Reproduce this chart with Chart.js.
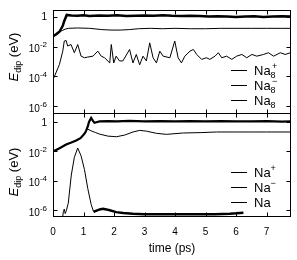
<!DOCTYPE html>
<html>
<head>
<meta charset="utf-8">
<script src="https://cdn.jsdelivr.net/npm/chart.js@4"></script>
<style>
  html, body { margin: 0; padding: 0; background: #fff; }
  #wrap { position: relative; width: 297px; height: 260px; }
  canvas { position: absolute; left: 0; }
</style>
</head>
<body>
<div id="wrap">
  <canvas id="top" width="297" height="114" style="top:0"></canvas>
  <canvas id="bottom" width="297" height="147" style="top:113px"></canvas>
</div>
<script>
// ---- top panel: Na8 cluster (time in ps, E_dip in eV)
const tNa8p = [0, 0.10, 0.21, 0.32, 0.37, 0.45, 0.6, 0.8, 1.0, 1.2, 1.5, 1.8, 2.1, 2.4, 2.7, 3.0, 3.3, 3.6, 3.9, 4.2, 4.5, 4.8, 5.1, 5.4, 5.7, 6.0, 6.3, 6.6, 6.9, 7.2, 7.5, 7.8]
const eNa8p = [0.051, 0.067, 0.10, 0.25, 0.53, 1.35, 1.25, 1.2, 1.3, 1.15, 1.25, 1.2, 1.3, 1.15, 1.2, 1.25, 1.2, 1.3, 1.2, 1.15, 1.2, 1.15, 1.05, 1.1, 1.05, 1.0, 1.05, 1.1, 1.0, 1.05, 1.1, 1.05]

const tNa8m = [0, 0.10, 0.21, 0.30, 0.40, 0.5, 0.8, 1.2, 1.6, 1.9, 2.2, 2.5, 2.8, 3.2, 3.6, 4.0, 4.5, 5.0, 5.5, 6.0, 6.5, 7.0, 7.5, 7.8]
const eNa8m = [0.051, 0.067, 0.10, 0.12, 0.15, 0.17, 0.18, 0.17, 0.14, 0.13, 0.13, 0.14, 0.16, 0.17, 0.16, 0.17, 0.16, 0.16, 0.17, 0.17, 0.17, 0.17, 0.17, 0.17]

const tNa8 = [0, 0.21, 0.32, 0.37, 0.43, 0.48, 0.59, 0.70, 0.81, 0.92, 1.03, 1.14, 1.31, 1.47, 1.58, 1.69, 1.86, 1.91, 1.99, 2.07, 2.18, 2.29, 2.51, 2.62, 2.73, 2.84, 2.95, 3.06, 3.17, 3.28, 3.39, 3.50, 3.61, 3.83, 3.99, 4.10, 4.21, 4.32, 4.49, 4.60, 4.71, 4.87, 5.03, 5.14, 5.31, 5.42, 5.53, 5.69, 5.86, 6.02, 6.19, 6.35, 6.52, 6.68, 6.90, 7.06, 7.23, 7.45, 7.61, 7.78]
const eNa8 = [6e-5, 6.3e-4, 5e-3, 0.024, 0.026, 0.011, 0.014, 0.0039, 0.014, 0.0023, 0.0018, 0.0020, 0.0023, 0.0050, 0.0023, 0.0018, 0.00081, 0.014, 0.00081, 0.0023, 0.0011, 0.0011, 0.0065, 0.00081, 0.0030, 0.0006, 0.0023, 0.0011, 0.018, 0.0018, 0.00081, 0.0050, 0.0023, 0.0018, 0.024, 0.0018, 0.00081, 0.0023, 0.0050, 0.0065, 0.0030, 0.0014, 0.0018, 0.0014, 0.0023, 0.0039, 0.0018, 0.0023, 0.0014, 0.0023, 0.0030, 0.0018, 0.0030, 0.0023, 0.0030, 0.0039, 0.0023, 0.0039, 0.0030, 0.0039]

// ---- bottom panel: Na atom
const tNap = [0, 0.2, 0.43, 0.6, 0.76, 0.9, 0.98, 1.05, 1.09, 1.14, 1.18, 1.25, 1.31, 1.36, 1.45, 1.53, 1.8, 2.1, 2.5, 3.0, 3.5, 4.0, 4.5, 5.0, 5.5, 6.0, 6.5, 7.0, 7.5, 7.8]
const eNap = [0.010, 0.016, 0.03, 0.04, 0.055, 0.08, 0.12, 0.18, 0.27, 0.5, 1.0, 1.87, 1.2, 0.88, 1.0, 1.1, 1.15, 1.1, 1.2, 1.1, 1.15, 1.1, 1.15, 1.1, 1.15, 1.1, 1.1, 1.15, 1.05, 1.1]

const tNam = [0, 0.2, 0.43, 0.6, 0.76, 0.9, 0.98, 1.05, 1.09, 1.14, 1.25, 1.4, 1.53, 1.8, 2.08, 2.35, 2.62, 2.84, 3.06, 3.39, 3.72, 4.27, 4.82, 5.36, 6.0, 6.46, 7.0, 7.78]
const eNam = [0.010, 0.016, 0.03, 0.04, 0.055, 0.08, 0.12, 0.18, 0.27, 0.33, 0.25, 0.19, 0.15, 0.11, 0.10, 0.13, 0.21, 0.27, 0.24, 0.17, 0.145, 0.18, 0.19, 0.21, 0.21, 0.21, 0.21, 0.21]

const tNa = [0.30, 0.34, 0.37, 0.40, 0.44, 0.50, 0.60, 0.70, 0.81, 0.92, 1.03, 1.14, 1.25, 1.33, 1.45, 1.53, 1.64, 1.75, 1.86, 2.07, 2.3, 2.62, 3.0, 3.72, 4.3, 4.82, 5.3, 5.80, 6.0, 6.13, 6.24]
const eNa = [2e-7, 8e-7, 1.2e-6, 6e-7, 1e-6, 3e-6, 2.5e-4, 4e-3, 0.017, 5e-3, 6e-4, 3e-5, 2.5e-6, 8e-7, 1.0e-6, 1.15e-6, 1.25e-6, 1.15e-6, 1.0e-6, 7.5e-7, 6.5e-7, 5.8e-7, 5.4e-7, 5.3e-7, 5.3e-7, 5.3e-7, 5.4e-7, 5.8e-7, 6.2e-7, 6.6e-7, 6.8e-7]

// ---- axes
const xTicks = [0, 1, 2, 3, 4, 5, 6, 7]
const yTicks = [1e-6, 1e-4, 1e-2, 1]
const yTickLabels = [['10', '-6'], ['10', '-4'], ['10', '-2'], ['1', '']]

const FONT = '"Liberation Sans", Arial, sans-serif'

function pts(t, e){
    return t.map((x, i) => ({x: x, y: e[i]}))
}

function line(t, e, w, extra){
    return Object.assign({
        data: pts(t, e),
        borderColor: '#000',
        borderWidth: w,
        pointRadius: 0,
        tension: 0,
        fill: false
    }, extra || {})
}

// text with sub/superscript, stacked after the base
function richLabel(ctx, x, y, base, sub, sup, size){
    ctx.font = size + 'px ' + FONT
    ctx.fillText(base, x, y)
    let w = ctx.measureText(base).width
    ctx.font = Math.round(size * 0.7) + 'px ' + FONT
    if (sub) ctx.fillText(sub, x + w, y + 3)
    if (sup) ctx.fillText(sup, x + w + (sub ? 1.5 : 0), y - 6)
}

function framePlugin(cfg){
    return {
        id: 'frame',
        afterDraw(chart){
            const {ctx, chartArea: a, scales} = chart
            const L = Math.round(a.left) + 0.5, R = Math.round(a.right) - 0.5
            const T = Math.round(a.top) + 0.5, B = Math.round(a.bottom) - 0.5
            ctx.save()
            ctx.strokeStyle = '#000'
            ctx.lineWidth = 1
            ctx.strokeRect(L, T, R - L, B - T)
            ctx.beginPath()
            xTicks.forEach(v => {
                const px = Math.round(scales.x.getPixelForValue(v)) + 0.5
                ctx.moveTo(px, B); ctx.lineTo(px, B - 4)
                ctx.moveTo(px, T); ctx.lineTo(px, T + 4)
            })
            yTicks.forEach(v => {
                const py = Math.round(scales.y.getPixelForValue(v)) + 0.5
                ctx.moveTo(L, py); ctx.lineTo(L + 4, py)
                ctx.moveTo(R, py); ctx.lineTo(R - 4, py)
            })
            ctx.stroke()

            ctx.fillStyle = '#000'
            ctx.textBaseline = 'alphabetic'
            // y tick labels
            yTicks.forEach((v, i) => {
                const py = scales.y.getPixelForValue(v)
                const [b, s] = yTickLabels[i]
                ctx.font = '10px ' + FONT
                const wb = ctx.measureText(b).width
                ctx.font = '8px ' + FONT
                const ws = s ? ctx.measureText(s).width : 0
                const x0 = 47 - wb - ws
                ctx.font = '10px ' + FONT
                ctx.textAlign = 'left'
                ctx.fillText(b, x0, py + (s ? 5.5 : 3.5))
                if (s){
                    ctx.font = '8px ' + FONT
                    ctx.fillText(s, x0 + wb, py + 0.5)
                }
            })
            // x tick labels
            if (cfg.xLabels){
                ctx.font = '10px ' + FONT
                ctx.textAlign = 'center'
                xTicks.forEach(v => {
                    ctx.fillText(String(v), scales.x.getPixelForValue(v), a.bottom + 18)
                })
                ctx.font = '12px ' + FONT
                ctx.fillText('time (ps)', (a.left + a.right) / 2, a.bottom + 35)
            }
            // rotated y title: E_dip (eV)
            ctx.save()
            ctx.translate(18, cfg.titleY)
            ctx.rotate(-Math.PI / 2)
            ctx.textAlign = 'left'
            ctx.font = 'italic 13px ' + FONT
            const wE = ctx.measureText('E').width
            ctx.font = '9px ' + FONT
            const wd = ctx.measureText('dip').width
            ctx.font = '13px ' + FONT
            const wr = ctx.measureText(' (eV)').width
            let x = -(wE + wd + wr) / 2
            ctx.font = 'italic 13px ' + FONT
            ctx.fillText('E', x, 0)
            x += wE
            ctx.font = '9px ' + FONT
            ctx.fillText('dip', x, 3)
            x += wd
            ctx.font = '13px ' + FONT
            ctx.fillText(' (eV)', x, 0)
            ctx.restore()

            // legend
            ctx.textAlign = 'left'
            cfg.legend.forEach(item => {
                const y = item.y + 0.5
                ctx.beginPath()
                ctx.moveTo(231, y); ctx.lineTo(247, y)
                ctx.stroke()
                richLabel(ctx, 254, item.y + 4.5, 'Na', item.sub, item.sup, 13)
            })
            ctx.restore()
        }
    }
}

function makeChart(canvas, datasets, yMin, yMax, padding, cfg){
    return new Chart(canvas, {
        type: 'line',
        data: {datasets: datasets},
        options: {
            responsive: false,
            animation: false,
            events: [],
            layout: {padding: padding},
            plugins: {legend: {display: false}, tooltip: {enabled: false}},
            scales: {
                x: {type: 'linear', min: 0, max: 7.8, display: false},
                y: {type: 'logarithmic', min: yMin, max: yMax, display: false}
            }
        },
        plugins: [framePlugin(cfg)]
    })
}

makeChart(document.getElementById('top'), [
    line(tNa8p, eNa8p, 2.5),
    line(tNa8m, eNa8m, 1),
    line(tNa8, eNa8, 1)
], 3e-7, 2.9, {left: 53, right: 6, top: 10, bottom: 0}, {
    xLabels: false,
    titleY: 57,
    legend: [
        {y: 70, sub: '8', sup: '+'},
        {y: 85, sub: '8', sup: '\u2212'},
        {y: 100, sub: '8', sup: ''}
    ]
})

makeChart(document.getElementById('bottom'), [
    line(tNap, eNap, 2.2),
    line(tNam, eNam, 1),
    line(tNa, eNa, 1, {segment: {borderWidth: c => c.p0.parsed.x >= 1.3 ? 2.5 : undefined}})
], 3.5e-7, 4.1, {left: 53, right: 6, top: 0, bottom: 43}, {
    xLabels: true,
    titleY: 59,
    legend: [
        {y: 59, sub: '', sup: '+'},
        {y: 74, sub: '', sup: '\u2212'},
        {y: 89, sub: '', sup: ''}
    ]
})
</script>
</body>
</html>
